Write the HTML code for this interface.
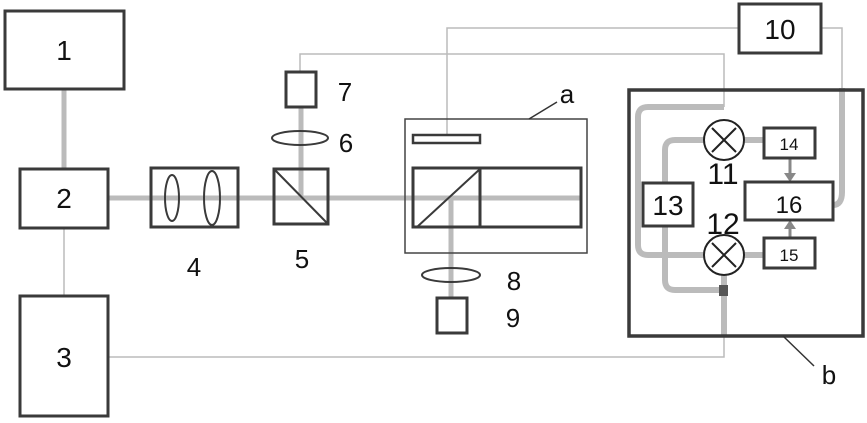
<!DOCTYPE html>
<html><head><meta charset="utf-8"><style>
html,body{margin:0;padding:0;background:#fff;}
svg{display:block;}
text{font-family:"Liberation Sans","DejaVu Sans",sans-serif;fill:#111;}
</style></head><body>
<svg width="867" height="423" viewBox="0 0 867 423" xmlns="http://www.w3.org/2000/svg">
<g fill="none" stroke-linecap="butt">
<g stroke="#bbb" stroke-width="1.5">
<line x1="64" y1="228" x2="64" y2="296"/>
<polyline points="108,357 724,357 724,336"/>
<polyline points="300,71 300,54 724,54 724,107"/>
<polyline points="447,135 447,28 739,28"/>
<polyline points="821,28 842,28 842,88"/>
</g>
<g stroke="#bbb" stroke-width="5">
<line x1="64" y1="89" x2="64" y2="169"/>
<line x1="108" y1="198" x2="581" y2="198"/>
<line x1="301" y1="107" x2="301" y2="198"/>
<line x1="451" y1="198" x2="451" y2="297"/>
</g>
<g stroke="#bbb" stroke-width="6" stroke-linejoin="round">
<path d="M842,88 V192 Q842,205 833,205"/>
<path d="M724,107 H648 Q638,107 638,117 V245 Q638,255 648,255 H704"/>
<path d="M704,140 H675 Q665,140 665,150 V183"/>
<path d="M665,226 V280 Q665,290 675,290 H724"/>
<line x1="724" y1="275" x2="724" y2="336"/>
<line x1="744" y1="140" x2="764" y2="140"/>
<line x1="744" y1="255" x2="764" y2="255"/>
</g>
<rect x="719" y="285" width="9" height="11" fill="#555" stroke="none"/>
<g stroke="#888" stroke-width="3">
<line x1="790" y1="158" x2="790" y2="174"/>
<line x1="790" y1="238" x2="790" y2="228"/>
</g>
<polygon points="784,173 796,173 790,182" fill="#888"/>
<polygon points="784,229 796,229 790,220" fill="#888"/>
<g stroke="#3a3a3a" stroke-width="3" fill="#fff">
<rect x="5" y="11" width="119" height="78"/>
<rect x="20" y="169" width="88" height="59"/>
<rect x="20" y="296" width="88" height="120"/>
<rect x="739" y="4" width="82" height="49"/>
<rect x="286" y="72" width="30" height="35" fill="none"/>
<rect x="437" y="298" width="30" height="35" fill="none"/>
<rect x="764" y="128" width="51" height="30"/>
<rect x="764" y="238" width="51" height="30"/>
<rect x="745" y="182" width="88" height="38"/>
<rect x="643" y="183" width="50" height="43"/>
</g>
<rect x="629" y="90" width="234" height="246" stroke="#3a3a3a" stroke-width="3.5"/>
<rect x="151" y="168" width="87" height="59" stroke="#3a3a3a" stroke-width="3"/>
<ellipse cx="172" cy="198" rx="7" ry="23" stroke="#3a3a3a" stroke-width="2"/>
<ellipse cx="212" cy="198" rx="8" ry="27" stroke="#3a3a3a" stroke-width="2"/>
<rect x="274" y="169" width="54" height="55" stroke="#3a3a3a" stroke-width="3"/>
<line x1="274" y1="169" x2="328" y2="224" stroke="#3a3a3a" stroke-width="2"/>
<ellipse cx="300" cy="138" rx="28" ry="7" stroke="#3a3a3a" stroke-width="2"/>
<ellipse cx="451" cy="275" rx="29" ry="7" stroke="#3a3a3a" stroke-width="2"/>
<rect x="405" y="119" width="182" height="134" stroke="#444" stroke-width="1.5"/>
<rect x="413" y="135" width="67" height="8" stroke="#3a3a3a" stroke-width="2.5"/>
<rect x="413" y="168" width="168" height="59" stroke="#3a3a3a" stroke-width="3"/>
<line x1="480" y1="168" x2="480" y2="227" stroke="#3a3a3a" stroke-width="3"/>
<line x1="417" y1="227" x2="480" y2="169" stroke="#3a3a3a" stroke-width="2"/>
<line x1="529" y1="119" x2="557" y2="102" stroke="#333" stroke-width="1.5"/>
<g stroke="#222" stroke-width="2" fill="#fff">
<circle cx="724" cy="140" r="20"/>
<circle cx="724" cy="255" r="20"/>
</g>
<g stroke="#222" stroke-width="2">
<line x1="712" y1="128" x2="736" y2="152"/><line x1="736" y1="128" x2="712" y2="152"/>
<line x1="712" y1="243" x2="736" y2="267"/><line x1="736" y1="243" x2="712" y2="267"/>
</g>
<line x1="783" y1="336" x2="814" y2="366" stroke="#333" stroke-width="1.5"/>
</g>
<g font-size="28" text-anchor="middle">
<text x="64" y="60">1</text>
<text x="64" y="208">2</text>
<text x="64" y="367">3</text>
<text x="194" y="276" font-size="26">4</text>
<text x="302" y="268" font-size="26">5</text>
<text x="345" y="101" font-size="26">7</text>
<text x="346" y="152" font-size="26">6</text>
<text x="514" y="290" font-size="26">8</text>
<text x="513" y="327" font-size="26">9</text>
<text x="567" y="103" font-size="26">a</text>
<text x="780" y="39">10</text>
<text x="668" y="215">13</text>
<text x="789" y="213" font-size="24">16</text>
<text x="789" y="150" font-size="17">14</text>
<text x="789" y="261" font-size="17">15</text>
<text x="723" y="184" font-size="30">11</text>
<text x="723" y="234" font-size="30">12</text>
<text x="829" y="384" font-size="26">b</text>
</g>
</svg>
</body></html>
